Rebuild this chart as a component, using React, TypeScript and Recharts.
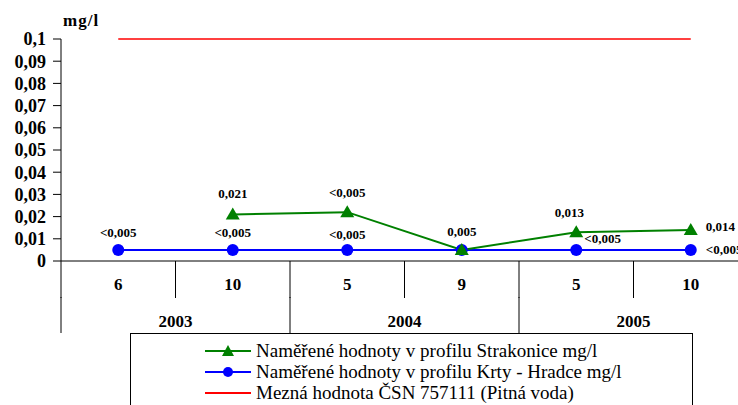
import { LineChart, Line, XAxis, YAxis, LabelList } from 'recharts'

const months = ['6', '10', '5', '9', '5', '10']
const years = ['2003', '2003', '2004', '2004', '2005', '2005']
const strakonice = [null, 0.021, 0.022, 0.005, 0.013, 0.014]
const krty = [0.005, 0.005, 0.005, 0.005, 0.005, 0.005]
const limit = [0.1, 0.1, 0.1, 0.1, 0.1, 0.1]
const strakoniceLabels = ['', '0,021', '<0,005', '0,005', '0,013', '0,014']
const krtyLabels = ['<0,005', '<0,005', '<0,005', '', '<0,005', '<0,005']
const yTicks = [0, 0.01, 0.02, 0.03, 0.04, 0.05, 0.06, 0.07, 0.08, 0.09, 0.1]

const data = months.map((m, i) => ({
  month: m,
  year: years[i],
  strakonice: strakonice[i],
  krty: krty[i],
  limit: limit[i],
}))

const FONT = "'Liberation Serif', 'Times New Roman', serif"
const GREEN = '#008000'
const BLUE = '#0000ff'
const RED = '#ff0000'
const CHART_W = 748
const PLOT_LEFT = 61
const HALF_BAND = (CHART_W - PLOT_LEFT) / 12

// label placement per point (dx, dy relative to point, text anchor)
const greenPlace = [
  { dx: 0, dy: -21, a: 'middle' }, { dx: 0, dy: -21, a: 'middle' }, { dx: 0, dy: -20, a: 'middle' },
  { dx: 0, dy: -18, a: 'middle' }, { dx: -7, dy: -20, a: 'middle' }, { dx: 15, dy: -3, a: 'start' },
]
const bluePlace = [
  { dx: 0, dy: -17, a: 'middle' }, { dx: 0, dy: -17, a: 'middle' }, { dx: 0, dy: -15, a: 'middle' },
  { dx: 0, dy: -17, a: 'middle' }, { dx: 8, dy: -11, a: 'start' }, { dx: 15, dy: 0, a: 'start' },
]

const makeLabel = (texts: string[], place: { dx: number; dy: number; a: string }[]) =>
  (props: any) => {
    const { x, y, index } = props
    const t = texts[index]
    if (!t || x == null || y == null) return null
    const p = place[index]
    return (
      <text x={x + p.dx} y={y + p.dy} textAnchor={p.a as any} dominantBaseline="central"
        fontFamily={FONT} fontWeight="bold" fontSize={13} fill="#000">
        {t}
      </text>
    )
  }

const MonthTick = (props: any) => {
  const { x, y, payload } = props
  const half = payload?.offset || HALF_BAND
  return (
    <g>
      <line x1={x - half} x2={x - half} y1={y} y2={y + 37} stroke="#000" />
      <text x={x} y={y + 23} textAnchor="middle" dominantBaseline="central"
        fontFamily={FONT} fontWeight="bold" fontSize={17} fill="#000">
        {payload.value}
      </text>
    </g>
  )
}

const YearTick = (props: any) => {
  const { x, y, payload } = props
  const half = payload?.offset || HALF_BAND * 2
  return (
    <g>
      <line x1={x - half} x2={x - half} y1={y} y2={y + 36} stroke="#000" />
      <text x={x} y={y + 24} textAnchor="middle" dominantBaseline="central"
        fontFamily={FONT} fontWeight="bold" fontSize={17} fill="#000">
        {payload.value}
      </text>
    </g>
  )
}

const Triangle = (props: any) => {
  const { cx, cy } = props
  if (cx == null || cy == null || props.value == null) return null
  return <path d={`M${cx},${cy - 7} L${cx + 7},${cy + 5} L${cx - 7},${cy + 5} Z`} fill={GREEN} />
}

const legendItems = [
  { label: 'Naměřené hodnoty v profilu Strakonice mg/l', color: GREEN, marker: 'triangle' },
  { label: 'Naměřené hodnoty v profilu Krty - Hradce mg/l', color: BLUE, marker: 'circle' },
  { label: 'Mezná hodnota ČSN 757111 (Pitná voda)', color: RED, marker: 'none' },
]

export default function App() {
  return (
    <div style={{ position: 'absolute', left: 0, top: 0, width: 738, height: 405, overflow: 'hidden', background: '#fff', fontFamily: FONT }}>
      <LineChart width={CHART_W} height={405} data={data} margin={{ top: 39, right: 0, left: 0, bottom: 72 }}>
        <XAxis dataKey="month" height={36} tickSize={0} tickMargin={0} tickLine={false}
          padding={{ left: HALF_BAND, right: HALF_BAND }}
          axisLine={{ stroke: '#000' }} tick={<MonthTick />} interval={0} />
        <XAxis xAxisId="yr" dataKey="year" allowDuplicatedCategory={false} height={36}
          padding={{ left: HALF_BAND * 2, right: HALF_BAND * 2 }}
          tickSize={0} tickMargin={0} tickLine={false} axisLine={false} tick={<YearTick />} interval={0} />
        <YAxis domain={[0, 0.1]} ticks={yTicks} interval={0} width={PLOT_LEFT} tickSize={8} tickMargin={7}
          axisLine={{ stroke: '#000' }} tickLine={{ stroke: '#000' }}
          tickFormatter={(v: number) => String(v).replace('.', ',')}
          tick={{ fill: '#000', fontSize: 18, fontWeight: 'bold', fontFamily: FONT }} />
        <Line dataKey="limit" stroke={RED} strokeWidth={1.5} dot={false} isAnimationActive={false} />
        <Line dataKey="krty" stroke={BLUE} strokeWidth={2} dot={{ r: 6, fill: BLUE, stroke: BLUE, strokeWidth: 0 }}
          isAnimationActive={false}>
          <LabelList dataKey="krty" content={makeLabel(krtyLabels, bluePlace)} />
        </Line>
        <Line dataKey="strakonice" stroke={GREEN} strokeWidth={2} dot={<Triangle />} isAnimationActive={false}>
          <LabelList dataKey="strakonice" content={makeLabel(strakoniceLabels, greenPlace)} />
        </Line>
      </LineChart>
      <div style={{ position: 'absolute', left: 63, top: 11, fontFamily: FONT, fontWeight: 'bold', fontSize: 17, letterSpacing: 1 }}>
        mg/l
      </div>
      <div style={{
        position: 'absolute', left: 130, top: 333, width: 563, height: 90, border: '1px solid #000',
        background: '#fff', boxSizing: 'border-box', paddingTop: 6, fontFamily: FONT, fontSize: 19,
      }}>
        {legendItems.map(it => (
          <div key={it.label} style={{ display: 'flex', alignItems: 'center', height: 21, paddingLeft: 74 }}>
            <svg width={46} height={14} style={{ marginRight: 5 }}>
              <line x1={0} x2={46} y1={7} y2={7} stroke={it.color} strokeWidth={2} />
              {it.marker === 'triangle' && <path d="M23,1 L29,12 L17,12 Z" fill={it.color} />}
              {it.marker === 'circle' && <circle cx={23} cy={7} r={5} fill={it.color} />}
            </svg>
            <span>{it.label}</span>
          </div>
        ))}
      </div>
    </div>
  )
}
